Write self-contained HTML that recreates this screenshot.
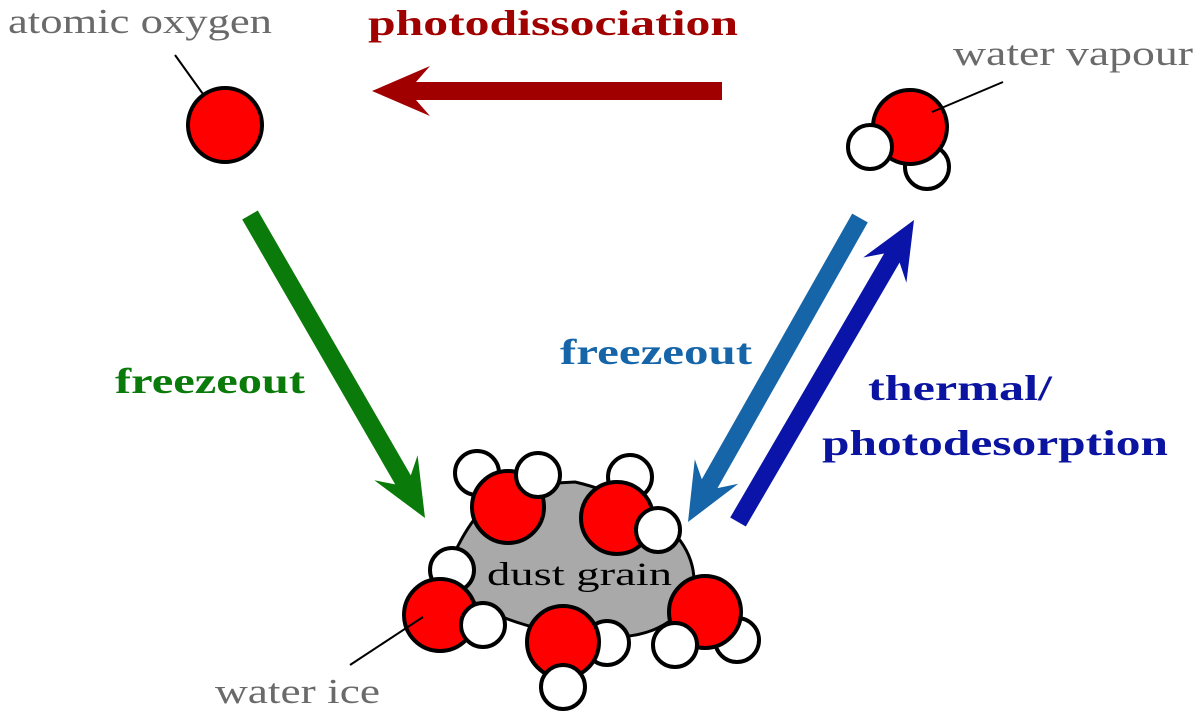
<!DOCTYPE html>
<html><head><meta charset="utf-8"><style>
html,body{margin:0;padding:0;background:#fff;}
svg{display:block;}
text{font-family:"Liberation Serif",serif;}
.b{font-weight:bold;font-size:36px;}
.g{fill:#6a6a6a;font-size:35px;}
</style></head><body>
<svg id="s" width="1200" height="717" viewBox="0 0 1200 717" xmlns="http://www.w3.org/2000/svg">
<g id="arrows"></g>
<text class="b" x="368" y="35" fill="#a00000" textLength="370" lengthAdjust="spacingAndGlyphs">photodissociation</text>
<text class="b" x="115" y="393" fill="#0a7a0a" textLength="190" lengthAdjust="spacingAndGlyphs">freezeout</text>
<text class="b" x="560" y="364" fill="#1565a8" textLength="192" lengthAdjust="spacingAndGlyphs">freezeout</text>
<text class="b" x="868" y="400" fill="#0a14a0" textLength="184" lengthAdjust="spacingAndGlyphs">thermal/</text>
<text class="b" x="822" y="455" fill="#0a14a0" textLength="346" lengthAdjust="spacingAndGlyphs">photodesorption</text>
<text class="g" x="8" y="33" textLength="264" lengthAdjust="spacingAndGlyphs">atomic oxygen</text>
<text class="g" x="953" y="65" textLength="240" lengthAdjust="spacingAndGlyphs">water vapour</text>
<text class="g" x="215" y="703" textLength="165" lengthAdjust="spacingAndGlyphs">water ice</text>
<g stroke="#000" stroke-width="4">
<line x1="175" y1="55" x2="213" y2="108" stroke-width="2"/>
<circle cx="225" cy="125" r="37" fill="#f00"/>
<circle cx="927" cy="167" r="22" fill="#fff"/>
<circle cx="910" cy="127" r="37" fill="#f00"/>
<circle cx="870" cy="147" r="22" fill="#fff"/>
<line x1="1003" y1="82" x2="932" y2="112" stroke-width="2"/>
<path d="M455,552 C470,520 490,495 520,485 L575,482 C610,490 640,505 665,525 C690,545 700,575 690,600 C670,630 640,638 600,638 L545,630 C510,622 480,610 462,592 C450,578 450,565 455,552 Z" fill="#a9a9a9" stroke-width="3"/>
<circle cx="477" cy="473" r="22" fill="#fff"/>
<circle cx="508" cy="507" r="36" fill="#f00"/>
<circle cx="538" cy="475" r="22" fill="#fff"/>
<circle cx="630" cy="477" r="22" fill="#fff"/>
<circle cx="617" cy="518" r="36" fill="#f00"/>
<circle cx="658" cy="530" r="22" fill="#fff"/>
<circle cx="452" cy="570" r="22" fill="#fff"/>
<circle cx="607" cy="643" r="22" fill="#fff"/>
<circle cx="737" cy="640" r="22" fill="#fff"/>
</g>
<text x="487" y="585" font-size="33" fill="#000" textLength="185" lengthAdjust="spacingAndGlyphs">dust grain</text>
<g stroke="#000" stroke-width="4">
<circle cx="440" cy="615" r="36" fill="#f00"/>
<circle cx="483" cy="625" r="22" fill="#fff"/>
<circle cx="563" cy="642" r="36" fill="#f00"/>
<circle cx="563" cy="687" r="22" fill="#fff"/>
<circle cx="705" cy="612" r="36" fill="#f00"/>
<circle cx="675" cy="645" r="22" fill="#fff"/>
<line x1="423" y1="617" x2="350" y2="665" stroke-width="2"/>
</g>
</svg>
<script>
function arrow(x1,y1,x2,y2,col){
 var dx=x2-x1,dy=y2-y1,L=Math.hypot(dx,dy),ux=dx/L,uy=dy/L,nx=-uy,ny=ux;
 var w=9,hw=25,hl=58,notch=14;
 function p(a,b){return (x1+ux*a+nx*b).toFixed(1)+","+(y1+uy*a+ny*b).toFixed(1);}
 var pts=[p(0,w),p(L-hl+notch,w),p(L-hl,hw),p(L,0),p(L-hl,-hw),p(L-hl+notch,-w),p(0,-w)];
 var e=document.createElementNS("http://www.w3.org/2000/svg","polygon");
 e.setAttribute("points",pts.join(" "));e.setAttribute("fill",col);
 document.getElementById("arrows").appendChild(e);
}
arrow(722,91,372,91,"#a00000");
arrow(250,215,425,518,"#0a7a0a");
arrow(860,218,688,522,"#1565a8");
arrow(738,522,914,220,"#0a14a8");
</script>
</body></html>
